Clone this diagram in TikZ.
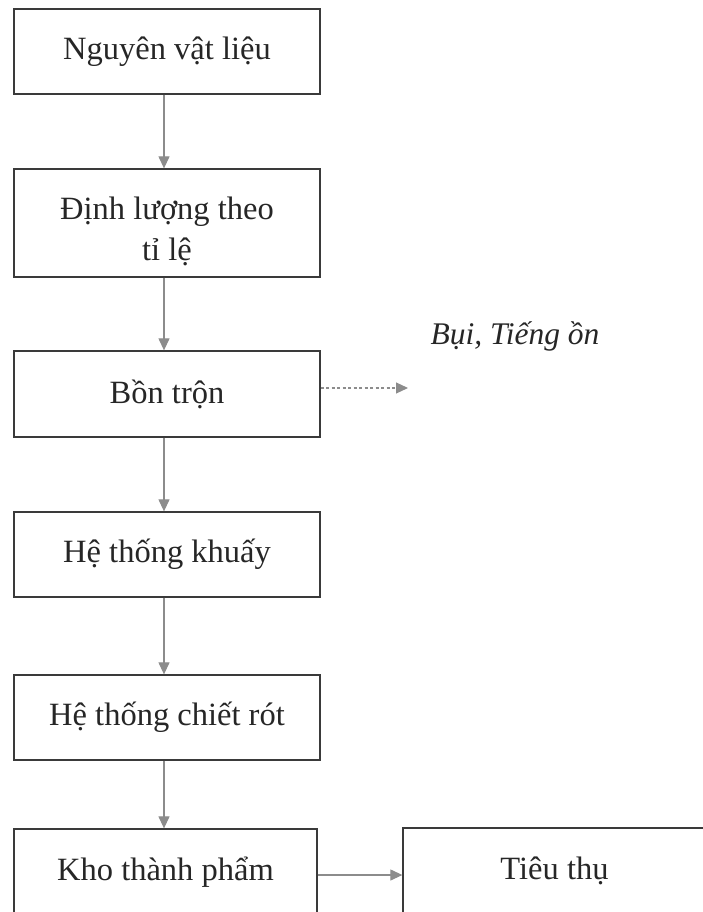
\documentclass[tikz,border=0pt]{standalone}
\usepackage{fontspec}
\setmainfont{Liberation Serif}
\usetikzlibrary{arrows.meta}
\definecolor{boxline}{HTML}{3A3A3A}
\definecolor{arrowc}{HTML}{8C8C8C}
\tikzset{
  stepbox/.style={draw=boxline, line width=1.3pt, minimum width=306pt, align=center, font=\fontsize{32.5}{41}\selectfont, text=black!85, inner sep=0pt},
  steptext/.style={align=center, font=\fontsize{32.5}{41}\selectfont, text=black!85, inner sep=0pt},
  flow/.style={draw=arrowc, line width=1.2pt, -{Triangle[length=12pt,width=11pt]}},
}
\begin{document}
\begin{tikzpicture}[x=1pt,y=-1pt]
\useasboundingbox (0,0) rectangle (703,912);
\node[stepbox, minimum height=85pt] (b1) at (167,51.5) {Nguyên vật liệu};
\node[stepbox, minimum height=108pt] (b2) at (167,223) {};
\node[steptext] (b2t) at (167,231) {Định lượng theo\\tỉ lệ};
\node[stepbox, minimum height=86pt] (b3) at (167,394) {Bồn trộn};
\node[stepbox, minimum height=85pt] (b4) at (167,554.5) {Hệ thống khuấy};
\node[stepbox, minimum height=85pt] (b5) at (167,717.5) {Hệ thống chiết rót};
\node[stepbox, minimum width=303pt, minimum height=86pt] (b6) at (165.5,872) {Kho thành phẩm};
\node[stepbox, minimum width=303pt, minimum height=86pt] (b7) at (554.5,871) {Tiêu thụ};
\node[font=\itshape\fontsize{31.5}{36}\selectfont, text=black!85] (emis) at (515,336) {Bụi, Tiếng ồn};
\coordinate (dustend) at (408,388);
\draw[flow] (b1.south -| 164,0) -- (b2.north -| 164,0);
\draw[flow] (b2.south -| 164,0) -- (b3.north -| 164,0);
\draw[flow] (b3.south -| 164,0) -- (b4.north -| 164,0);
\draw[flow] (b4.south -| 164,0) -- (b5.north -| 164,0);
\draw[flow] (b5.south -| 164,0) -- (b6.north -| 164,0);
\draw[flow] (b6.east |- 0,875) -- (b7.west |- 0,875);
\draw[flow, dash pattern=on 3pt off 2.5pt] (b3.east |- 0,388) -- (dustend);
\end{tikzpicture}
\end{document}
